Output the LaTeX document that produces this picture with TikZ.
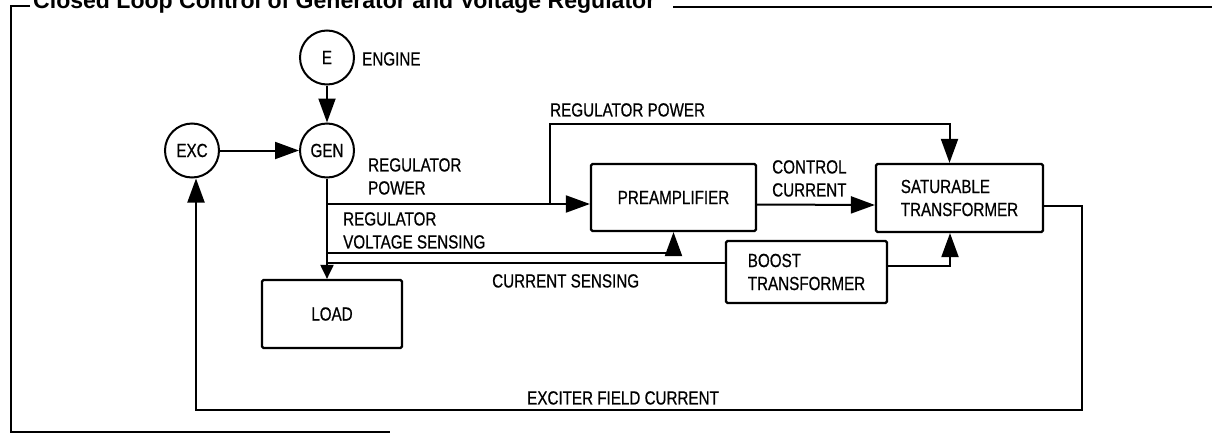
\documentclass[tikz,border=0pt]{standalone}
\usepackage{fontspec}
\setmainfont{Liberation Sans}
\newfontfamily\labfont[FakeStretch=0.8,FakeBold=0.6]{Liberation Sans}
\newfontfamily\titlefont{Liberation Sans}
\usetikzlibrary{arrows.meta}
\begin{document}
\begin{tikzpicture}[x=1pt,y=-1pt,
  every node/.style={font=\labfont\fontsize{19}{23}\selectfont, inner sep=0pt},
  wire/.style={line width=2pt},
  bigarrow/.style={-{Triangle[length=24pt,width=17pt]}},
  smallarrow/.style={-{Triangle[length=14pt,width=13pt]}},
  disc/.style={circle, draw, line width=2pt, minimum size=54pt},
  blockbox/.style={draw, line width=2.2pt, rounded corners=1.5pt},
  lab/.style={anchor=north west, align=left},
  frame/.style={line width=2pt}]
\useasboundingbox (0,0) rectangle (1212,434);

% frame and title
\node[anchor=base west, font=\titlefont\bfseries] (title) at (33,8)
  {\resizebox{622pt}{!}{Closed Loop Control of Generator and Voltage Regulator}};
\draw[frame] (30,6) -- (11,6) -- (11,432) -- (390,432);
\draw[frame] (673,6.5) -- (1212,6.5);

% machines
\node[disc] (E) at (327,57.5) {E};
\node[disc] (GEN) at (327,150.5) {GEN};
\node[disc] (EXC) at (192,150.5) {EXC};
\node[lab] (engine) at (362,52) {ENGINE};

% blocks
\node[blockbox, minimum width=165pt, minimum height=67pt] (preamp) at (673.5,197.5) {PREAMPLIFIER};
\node[blockbox, minimum width=167pt, minimum height=68pt, align=left] (sat) at (959.5,198) {SATURABLE\\TRANSFORMER};
\node[blockbox, minimum width=161pt, minimum height=62pt, align=left] (boost) at (806.5,272) {BOOST\\TRANSFORMER};
\node[blockbox, minimum width=140pt, minimum height=68pt] (load) at (332,314) {LOAD};

% labels
\node[lab] (l1) at (368,158) {REGULATOR\\POWER};
\node[lab] (l2) at (343,212) {REGULATOR\\VOLTAGE SENSING};
\node[lab] (l3) at (492,274) {CURRENT SENSING};
\node[lab] (l4) at (550,103) {REGULATOR POWER};
\node[lab] (l5) at (772,160) {CONTROL\\CURRENT};
\node[lab] (l6) at (527,391) {EXCITER FIELD CURRENT};

% junctions
\coordinate (jA) at (327,204);
\coordinate (jB) at (550,204);
\coordinate (jC) at (327,253);
\coordinate (jD) at (327,263);
\coordinate (rpTop) at (550,124);
\coordinate (fbR) at (1082,410);

% connectors
\draw[wire,bigarrow] (E) -- (GEN);
\draw[wire,bigarrow] (EXC) -- (GEN);
\draw[wire,smallarrow] (GEN.south) -- (GEN.south |- load.north);
\draw[wire,bigarrow] (jA) -- (jA -| preamp.west);
\draw[wire,bigarrow] (jB) -- (rpTop) -| ([xshift=-10pt]sat.north);
\draw[wire,bigarrow] ([yshift=-7pt]preamp.east) -- ([yshift=-7pt]sat.west);
\draw[wire,bigarrow] (jC) -| (preamp.south);
\draw[wire] (jD) -- (jD -| boost.west);
\draw[wire,bigarrow] ([yshift=6pt]boost.east) -| ([xshift=-9.5pt]sat.south);
\draw[wire,bigarrow] ([yshift=-8pt]sat.east) -| (fbR) -| ([xshift=4pt]EXC.south);
\end{tikzpicture}
\end{document}
